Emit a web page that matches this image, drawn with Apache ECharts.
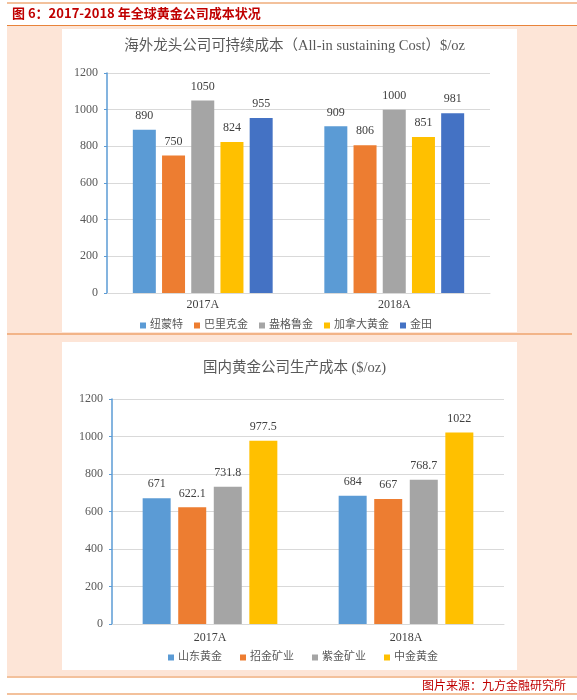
<!DOCTYPE html>
<html>
<head>
<meta charset="utf-8">
<script src="https://cdn.jsdelivr.net/npm/echarts@6/dist/echarts.min.js"></script>
<style>
html,body{margin:0;padding:0;background:#fff;}
#c{width:577px;height:700px;}
</style>
</head>
<body>
<div id="c"></div>
<script>
// ---- data ----
const categories = ['2017A', '2018A'];
const chart1Series = ['纽蒙特', '巴里克金', '盎格鲁金', '加拿大黄金', '金田'];
const newmont = [890, 909];
const barrick = [750, 806];
const anglogold = [1050, 1000];
const goldcorp = [824, 851];
const goldfields = [955, 981];
const chart2Series = ['山东黄金', '招金矿业', '紫金矿业', '中金黄金'];
const shandong = [671, 684];
const zhaojin = [622.1, 667];
const zijin = [731.8, 768.7];
const zhongjin = [977.5, 1022];
const yTicks = [0, 200, 400, 600, 800, 1000, 1200];

const colors1 = ['#5b9bd5', '#ed7d31', '#a5a5a5', '#ffc000', '#4472c4'];
const colors2 = ['#5b9bd5', '#ed7d31', '#a5a5a5', '#ffc000'];

const serif = '"Liberation Serif", "Times New Roman", serif';
const cjk = '"Liberation Serif", "Noto Sans CJK SC", serif';

const chart = echarts.init(document.getElementById('c'));

function mkSeries(name, data, color, idx, bw, gap) {
  return {
    name: name, type: 'bar', data: data,
    xAxisIndex: idx, yAxisIndex: idx,
    barWidth: bw, barGap: gap,
    itemStyle: { color: color },
    label: { show: true, position: 'top', distance: 8, color: '#404040', fontSize: 12, fontFamily: serif }
  };
}

const s1data = [newmont, barrick, anglogold, goldcorp, goldfields];
const s2data = [shandong, zhaojin, zijin, zhongjin];
const series = [];
chart1Series.forEach((n, i) => series.push(mkSeries(n, s1data[i], colors1[i], 0, 23, '27%')));
chart2Series.forEach((n, i) => series.push(mkSeries(n, s2data[i], colors2[i], 1, 28, '27%')));

const yMax = yTicks[yTicks.length - 1];
const yInt = yTicks[1] - yTicks[0];

function yAxis(idx, margin) {
  return {
    gridIndex: idx, type: 'value', min: yTicks[0], max: yMax, interval: yInt,
    axisLine: { show: true, lineStyle: { color: '#5b9bd5', width: 1.5 } },
    axisTick: { show: true, length: 3, lineStyle: { color: '#5b9bd5' } },
    axisLabel: { color: '#595959', fontSize: 12, fontFamily: serif, margin: margin, formatter: v => String(v) },
    splitLine: { lineStyle: { color: '#d9d9d9' } }
  };
}
function xAxis(idx, margin) {
  return {
    gridIndex: idx, type: 'category', data: categories,
    axisLine: { lineStyle: { color: '#d9d9d9' } },
    axisTick: { show: false },
    axisLabel: { color: '#404040', fontSize: 12, fontFamily: serif, margin: margin }
  };
}

const option = {
  animation: false,
  graphic: [
    { type: 'rect', z: -100, shape: { x: 7, y: 26, width: 570, height: 650 }, style: { fill: '#fde5d7' } },
    { type: 'rect', z: -90, shape: { x: 62, y: 29, width: 455, height: 303 }, style: { fill: '#ffffff' } },
    { type: 'rect', z: -90, shape: { x: 62, y: 342, width: 455, height: 328 }, style: { fill: '#ffffff' } },
    { type: 'line', z: -80, shape: { x1: 7, y1: 3, x2: 577, y2: 3 }, style: { stroke: '#e8833a', lineWidth: 1.2 } },
    { type: 'line', z: -80, shape: { x1: 7, y1: 25.5, x2: 577, y2: 25.5 }, style: { stroke: '#e8833a', lineWidth: 1.2 } },
    { type: 'line', z: -80, shape: { x1: 7, y1: 334, x2: 572, y2: 334 }, style: { stroke: '#e8833a', lineWidth: 1.2 } },
    { type: 'line', z: -80, shape: { x1: 7, y1: 677, x2: 577, y2: 677 }, style: { stroke: '#e8833a', lineWidth: 1.2 } },
    { type: 'line', z: -80, shape: { x1: 7, y1: 694, x2: 577, y2: 694 }, style: { stroke: '#e8833a', lineWidth: 1.2 } },
    { type: 'text', left: 12, top: 7, style: { text: '图 6：2017-2018 年全球黄金公司成本状况', fill: '#c00000', font: 'bold 13px "Noto Sans CJK SC", sans-serif' } },
    { type: 'text', right: 11, top: 679, style: { text: '图片来源：九方金融研究所', fill: '#c00000', font: '12px "Noto Sans CJK SC", sans-serif' } }
  ],
  title: [
    { text: '海外龙头公司可持续成本（All-in sustaining Cost）$/oz', left: 289.5, textAlign: 'center', top: 34,
      textStyle: { color: '#595959', fontSize: 14.5, fontWeight: 'normal', fontFamily: cjk } },
    { text: '国内黄金公司生产成本 ($/oz)', left: 289.5, textAlign: 'center', top: 356,
      textStyle: { color: '#595959', fontSize: 14.5, fontWeight: 'normal', fontFamily: cjk } }
  ],
  legend: [
    { data: chart1Series, left: 135, top: 315, itemWidth: 6, itemHeight: 6, itemGap: 11, icon: 'rect',
      textStyle: { color: '#595959', fontSize: 11, fontFamily: cjk, padding: [0, 0, 0, -1] } },
    { data: chart2Series, left: 163, top: 647, itemWidth: 6, itemHeight: 6, itemGap: 18, icon: 'rect',
      textStyle: { color: '#595959', fontSize: 11, fontFamily: cjk, padding: [0, 0, 0, -1] } }
  ],
  grid: [
    { left: 107, right: 87, top: 73, height: 220 },
    { left: 112, right: 73, top: 399, height: 225 }
  ],
  xAxis: [xAxis(0, 6), xAxis(1, 8)],
  yAxis: [yAxis(0, 9), yAxis(1, 9)],
  series: series
};
chart.setOption(option);
</script>
</body>
</html>
